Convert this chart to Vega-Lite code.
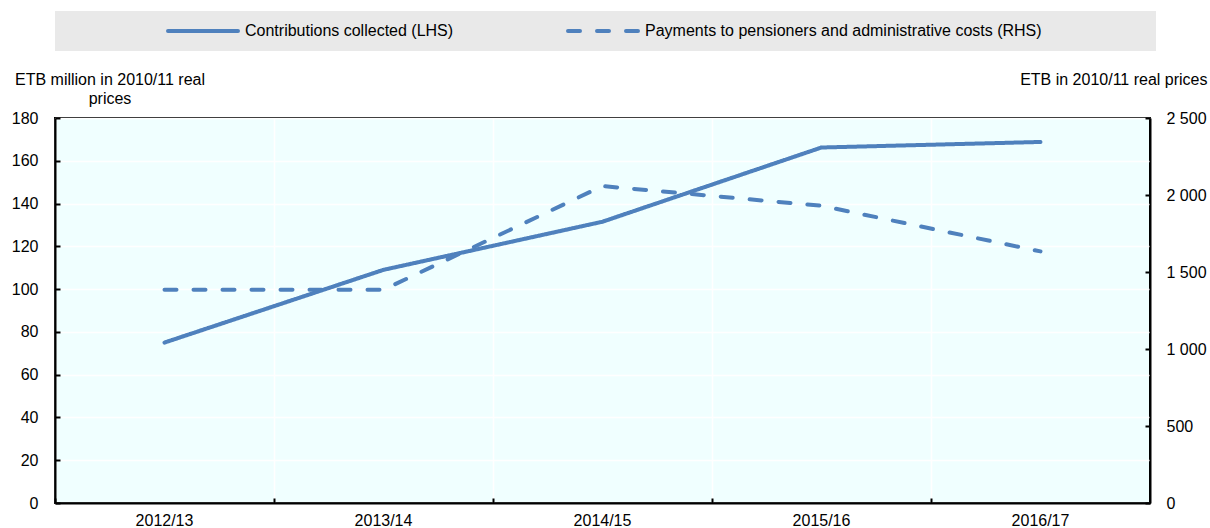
{
  "$schema": "https://vega.github.io/schema/vega-lite/v6.json",
  "width": 1095,
  "height": 385,
  "autosize": "none",
  "padding": {"left": 55, "top": 118, "right": 60, "bottom": 25},
  "background": "white",
  "config": {
    "font": "Liberation Sans, Arial, sans-serif",
    "view": {"fill": "#F0FFFF", "stroke": "#000000", "strokeWidth": 2},
    "axis": {
      "labelFontSize": 16,
      "labelColor": "#000000",
      "titleColor": "#000000",
      "titleFontSize": 16,
      "titleFontWeight": "normal",
      "domainColor": "#000000",
      "domainWidth": 2,
      "tickColor": "#000000",
      "tickWidth": 2,
      "gridColor": "#FFFFFF",
      "gridWidth": 1.5,
      "gridOpacity": 1
    }
  },
  "data": {
    "values": [
      {"year": "2012/13", "series": "Contributions collected (LHS)", "value": 75},
      {"year": "2013/14", "series": "Contributions collected (LHS)", "value": 109},
      {"year": "2014/15", "series": "Contributions collected (LHS)", "value": 131.5},
      {"year": "2015/16", "series": "Contributions collected (LHS)", "value": 166.2},
      {"year": "2016/17", "series": "Contributions collected (LHS)", "value": 168.8},
      {"year": "2012/13", "series": "Payments to pensioners and administrative costs (RHS)", "value": 1385},
      {"year": "2013/14", "series": "Payments to pensioners and administrative costs (RHS)", "value": 1385},
      {"year": "2014/15", "series": "Payments to pensioners and administrative costs (RHS)", "value": 2058},
      {"year": "2015/16", "series": "Payments to pensioners and administrative costs (RHS)", "value": 1930},
      {"year": "2016/17", "series": "Payments to pensioners and administrative costs (RHS)", "value": 1634}
    ]
  },
  "encoding": {
    "x": {
      "field": "year",
      "type": "ordinal",
      "bandPosition": 0.5,
      "scale": {"type": "band", "paddingInner": 0, "paddingOuter": 0},
      "axis": {
        "title": null,
        "bandPosition": 0,
        "labelOffset": 0,
        "labelAngle": 0,
        "labelPadding": 14,
        "tickSize": -5,
        "grid": true,
        "domain": true
      }
    },
    "strokeDash": {
      "field": "series",
      "type": "nominal",
      "scale": {
        "domain": ["Contributions collected (LHS)", "Payments to pensioners and administrative costs (RHS)"],
        "range": [[1, 0], [12, 17]]
      },
      "legend": {
        "orient": "none",
        "legendX": 0,
        "legendY": -107,
        "direction": "horizontal",
        "title": " ",
        "titleOrient": "left",
        "titlePadding": 128,
        "fillColor": "#E9E9E9",
        "padding": 12,
        "columnPadding": 106,
        "symbolType": "M-7,0H7",
        "symbolSize": 100,
        "symbolStrokeWidth": 4,
        "symbolStrokeColor": "#4F81BD",
        "labelFontSize": 16,
        "labelOffset": 34,
        "labelColor": "#000000",
        "labelLimit": 0,
        "labelExpr": "datum.label == 'Contributions collected (LHS)' ? datum.label : datum.label + '\u00a0\u00a0\u00a0\u00a0\u00a0\u00a0\u00a0\u00a0\u00a0\u00a0\u00a0\u00a0\u00a0\u00a0\u00a0\u00a0\u00a0\u00a0\u00a0\u00a0\u00a0\u00a0\u00a0\u200b'",
        "encode": {"symbols": {"update": {"strokeCap": {"value": "round"}, "stroke": {"value": "#4F81BD"}}}}
      }
    }
  },
  "layer": [
    {
      "transform": [{"filter": "datum.series == 'Contributions collected (LHS)'"}],
      "mark": {"type": "line", "color": "#4F81BD", "strokeWidth": 4, "strokeCap": "round", "strokeJoin": "round"},
      "encoding": {
        "y": {
          "field": "value",
          "type": "quantitative",
          "scale": {"domain": [0, 180], "nice": false},
          "axis": {
            "values": [0, 20, 40, 60, 80, 100, 120, 140, 160, 180],
            "title": ["ETB million in 2010/11 real", "prices"],
            "titleAngle": 0,
            "titleAlign": "center",
            "titleBaseline": "alphabetic",
            "titleX": 54.5,
            "titleY": -34,
            "titleLineHeight": 19,
            "tickSize": -5,
            "labelPadding": 22,
            "grid": true
          }
        }
      }
    },
    {
      "transform": [{"filter": "datum.series != 'Contributions collected (LHS)'"}],
      "mark": {"type": "line", "color": "#4F81BD", "strokeWidth": 4, "strokeCap": "round", "strokeJoin": "round"},
      "encoding": {
        "y": {
          "field": "value",
          "type": "quantitative",
          "scale": {"domain": [0, 2500], "nice": false},
          "axis": {
            "orient": "right",
            "values": [0, 500, 1000, 1500, 2000, 2500],
            "labelExpr": "replace(format(datum.value, ','), ',', ' ')",
            "title": "ETB in 2010/11 real prices",
            "titleAngle": 0,
            "titleAlign": "right",
            "titleBaseline": "alphabetic",
            "titleX": 57,
            "titleY": -34,
            "tickSize": -5,
            "labelPadding": 21,
            "grid": false
          }
        }
      }
    }
  ],
  "resolve": {"scale": {"y": "independent"}}
}
